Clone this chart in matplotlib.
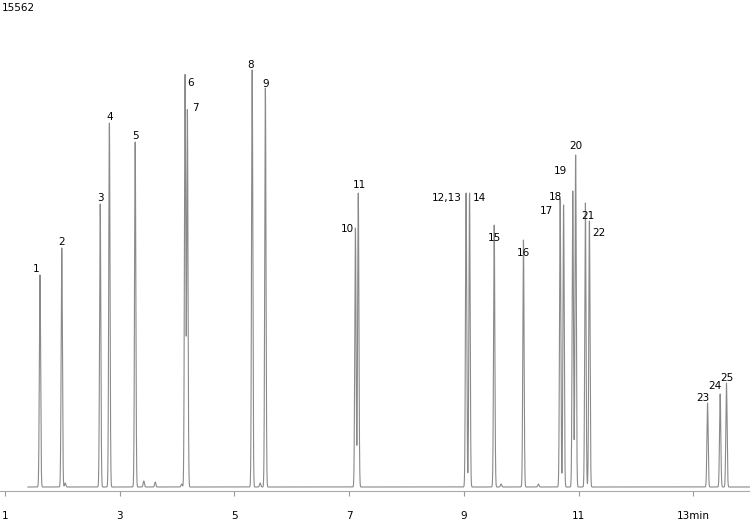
import numpy as np
import matplotlib
matplotlib.use("Agg")
import matplotlib.pyplot as plt

labels = ["1","2","3","4","5","6","7","8","9","10","11","12,13","14","15","16",
          "17","18","19","20","21","22","23","24","25"]
times = [1.61,1.99,2.66,2.82,3.27,4.14,4.18,5.31,5.54,7.11,7.16,9.04,9.10,9.53,10.04,
         10.68,10.74,10.90,10.95,11.12,11.19,13.25,13.47,13.58]
heights = [212,239,283,364,345,412,377,417,399,259,294,294,294,262,247,
           288,282,296,332,284,266,84,93,104]
minor_times = [2.05,3.42,3.62,4.08,5.45,9.65,10.3]
minor_heights = [4,6,5,3,4,3,3]
tick_vals = [1,3,5,7,9,11,13]
tick_text = ["1","3","5","7","9","11","13min"]
top_label = "15562"

# label offsets in points (dx, dy)
offs = {"1":(-3,1),"2":(0,1),"3":(0,1),"4":(0,1),"5":(0,1),"6":(4,-9),"7":(6,-2),
        "8":(-1,0),"9":(0,-1),"10":(-6,-4),"11":(1,2),"12,13":(-14,-7),"14":(7,-7),
        "15":(0,-13),"16":(0,-13),"17":(-10,-12),"18":(-6,2),"19":(-9,11),"20":(0,3),
        "21":(2,-13),"22":(7,-12),"23":(-3,0),"24":(-4,2),"25":(0,0)}

t = np.linspace(1.4, 14.2, 20000)
y = np.zeros_like(t)
for tc, h in zip(times + minor_times, heights + minor_heights):
    y += h * np.exp(-0.5 * ((t - tc) / 0.011) ** 2)

fig = plt.figure(figsize=(7.5, 5.25), dpi=100)
ax = fig.add_axes([0, 34/525, 1, 491/525])
ax.plot(t, y, color="#8a8a8a", lw=0.8)
ax.set_xlim(1 - 5/57.35, 1 + 745/57.35)
ax.set_ylim(-4, 487)
for s in ["top", "right", "left"]:
    ax.spines[s].set_visible(False)
ax.spines["bottom"].set_color("#aaaaaa")
ax.set_yticks([])
ax.set_xticks(tick_vals)
ax.set_xticklabels(tick_text, fontsize=7.5)
ax.tick_params(axis="x", direction="out", length=3.6, color="#999999", pad=11)
for lab, tc, h in zip(labels, times, heights):
    dx, dy = offs[lab]
    ax.annotate(lab, (tc, h), xytext=(dx, dy), textcoords="offset points",
                ha="center", va="bottom", fontsize=7.5)
fig.text(0.003, 0.995, top_label, fontsize=7.5, va="top", ha="left")
fig.savefig("out.png", dpi=100)
